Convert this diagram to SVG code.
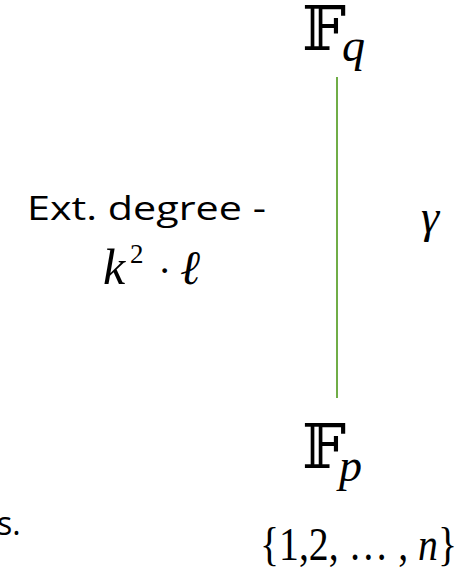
<svg xmlns="http://www.w3.org/2000/svg" width="466" height="570" viewBox="0 0 466 570">
<style>
.t{font-family:"Open Sans","Liberation Sans",sans-serif;fill:#000}
.m{font-family:"Liberation Serif","DejaVu Serif",serif;font-style:italic;fill:#000}
.r{font-family:"Liberation Serif","DejaVu Serif",serif;fill:#000}
.bb{font-family:"DejaVu Serif","DejaVu Sans",serif;fill:#000}
</style>
<rect width="466" height="570" fill="#fff"/>
<g id="connectors">
<line x1="337" y1="77" x2="337" y2="398" stroke="#70AD47" stroke-width="2"/>
</g>
<g id="node-Fq">
<text class="bb" x="302" y="50" font-size="62">𝔽</text>
<text class="m" x="342" y="61" font-size="46">q</text>
</g>
<g id="node-Fp">
<text class="bb" x="302" y="468" font-size="62">𝔽</text>
<text class="m" x="339" y="481" font-size="46">p</text>
</g>
<g id="label-ext">
<text class="t" x="27" y="220" font-size="32" textLength="239" lengthAdjust="spacingAndGlyphs">Ext. degree -</text>
<text class="m" x="103" y="284" font-size="50">k</text>
<text class="r" x="130" y="263" font-size="27">2</text>
<text class="r" x="158" y="284" font-size="40">·</text>
<text class="m" x="180" y="284" font-size="48">ℓ</text>
</g>
<g id="label-gamma">
<text class="m" x="421" y="232" font-size="46">γ</text>
</g>
<g id="label-set">
<text class="r" x="260" y="560" font-size="46" textLength="197" lengthAdjust="spacingAndGlyphs">{1,2, … , <tspan font-style="italic">n</tspan>}</text>
</g>
<g id="label-s">
<text class="t" x="-3" y="535" font-size="32">s.</text>
</g>
</svg>
